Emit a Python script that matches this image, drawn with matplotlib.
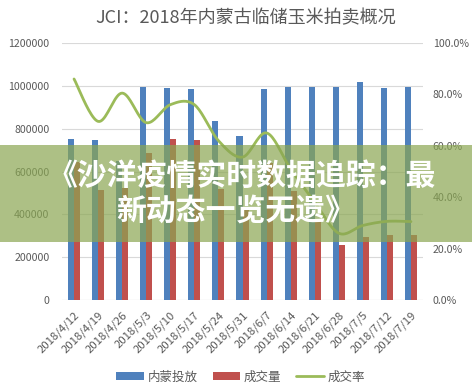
import numpy as np
import matplotlib
matplotlib.use("Agg")
import matplotlib.pyplot as plt
from matplotlib.patches import Rectangle
from matplotlib.ticker import FuncFormatter, MultipleLocator

plt.rcParams['font.family'] = ['Noto Sans CJK SC', 'DejaVu Sans']

title = "JCI：2018年内蒙古临储玉米拍卖概况"
dates = ['2018/4/12', '2018/4/19', '2018/4/26', '2018/5/3', '2018/5/10', '2018/5/17',
         '2018/5/24', '2018/5/31', '2018/6/7', '2018/6/14', '2018/6/21', '2018/6/28',
         '2018/7/5', '2018/7/12', '2018/7/19']
supply = [752000, 745000, 650000, 995000, 990000, 985000, 835000, 765000, 985000,
          995000, 995000, 995000, 1018000, 990000, 995000]
volume = [645000, 515000, 523000, 686000, 752000, 748000, 518000, 425000, 640000,
          507000, 378000, 258000, 295000, 303000, 303000]
rate = [0.86, 0.695, 0.805, 0.69, 0.76, 0.76, 0.62, 0.556, 0.65, 0.51, 0.38, 0.26,
        0.29, 0.306, 0.305]
series_names = ['内蒙投放', '成交量', '成交率']
banner_lines = ['《沙洋疫情实时数据追踪：最', '新动态一览无遗》']

blue = '#4F81BD'
red = '#C0504D'
green = '#9BBB59'
txt = '#595959'
grid = '#D9D9D9'

fig = plt.figure(figsize=(4.72, 3.87), dpi=100)
ax = fig.add_axes([62/472, 1-300/387, (423-62)/472, (300-43)/387])
ax2 = ax.twinx()

x = np.arange(len(dates))
w = 0.25
ax.bar(x - w/2, supply, width=w, color=blue, label=series_names[0], zorder=2)
ax.bar(x + w/2, volume, width=w, color=red, label=series_names[1], zorder=2)

# Excel-style smoothed line (Bezier through the data points)
def smooth(xs, ys, n=20):
    xs = np.asarray(xs, float); ys = np.asarray(ys, float)
    px = np.concatenate([[xs[0]], xs, [xs[-1]]])
    py = np.concatenate([[ys[0]], ys, [ys[-1]]])
    ox, oy = [], []
    for i in range(1, len(px) - 2):
        p0, p1, p2, p3 = (np.array([px[j], py[j]]) for j in (i-1, i, i+1, i+2))
        c1 = p1 + (p2 - p0) / 6
        c2 = p2 - (p3 - p1) / 6
        t = np.linspace(0, 1, n, endpoint=(i == len(px) - 3))
        pts = ((1-t)**3)[:, None]*p1 + (3*(1-t)**2*t)[:, None]*c1 + (3*(1-t)*t**2)[:, None]*c2 + (t**3)[:, None]*p2
        ox.extend(pts[:, 0]); oy.extend(pts[:, 1])
    return np.array(ox), np.array(oy)

sx, sy = smooth(x, rate)
ax2.plot(sx, sy, color=green, lw=2.0, label=series_names[2], solid_capstyle='round')

ax.set_xlim(-0.5, len(dates) - 0.5)
ax.set_ylim(0, 1200000)
ax2.set_ylim(0, 1.0)
ax.yaxis.set_major_locator(MultipleLocator(200000))
ax2.yaxis.set_major_locator(MultipleLocator(0.2))
ax.yaxis.set_major_formatter(FuncFormatter(lambda v, p: f"{int(v)}"))
ax2.yaxis.set_major_formatter(FuncFormatter(lambda v, p: f"{v*100:.1f}%"))
ax.grid(axis='y', color=grid, lw=0.8, zorder=0)
ax.set_axisbelow(True)

for a in (ax, ax2):
    for s in ('top', 'right', 'left', 'bottom'):
        a.spines[s].set_visible(False)
ax.axhline(0, color=grid, lw=0.8, zorder=1)

ax.set_xticks(x)
ax.set_xticklabels(dates, rotation=45, ha='right', rotation_mode='anchor', fontsize=8.2, color=txt)
ax.tick_params(axis='x', length=0, pad=7)
ax.tick_params(axis='y', length=0, pad=9, labelsize=7.6, labelcolor=txt)
ax2.tick_params(axis='y', length=0, pad=7, labelsize=7.6, labelcolor=txt)

fig.text(0.52, 1-18/387, title, ha='center', va='center', fontsize=13, color=txt)

h1, l1 = ax.get_legend_handles_labels()
h2, l2 = ax2.get_legend_handles_labels()
leg = fig.legend(h1 + h2, l1 + l2, loc='center', bbox_to_anchor=(0.51, 1-377/387), ncol=3,
                 frameon=False, fontsize=9, handlelength=2.2, handleheight=0.6,
                 columnspacing=1.2, handletextpad=0.3)
for t in leg.get_texts():
    t.set_color(txt)

# overlay banner
fig.add_artist(Rectangle((0, 1-242/387), 1, (242-145)/387, transform=fig.transFigure,
                         facecolor='#8AA652', alpha=0.70, edgecolor='none', zorder=5))
fig.text(0.513, 1-176/387, banner_lines[0], ha='center', va='center', fontsize=21.5,
         fontweight='bold', color='white', zorder=6)
fig.text(0.50, 1-211/387, banner_lines[1], ha='center', va='center', fontsize=21.5,
         fontweight='bold', color='white', zorder=6)

fig.savefig('out.png', dpi=100)
